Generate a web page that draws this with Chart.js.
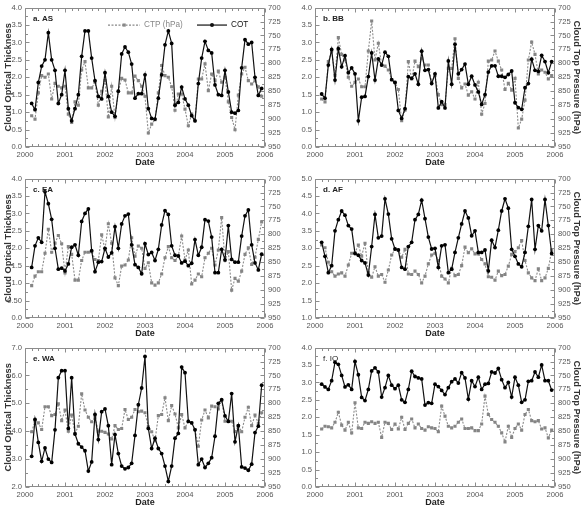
<!DOCTYPE html>
<html>
<head>
<meta charset="utf-8">
<script src="https://cdn.jsdelivr.net/npm/chart.js@4.4.1/dist/chart.umd.min.js"></script>
<style>
html,body{margin:0;padding:0;background:#fff;}
#wrap{position:relative;width:583px;height:512px;background:#fff;overflow:hidden;}
canvas{position:absolute;}
</style>
</head>
<body>
<div id="wrap"></div>
<script>
// ---- categories (monthly, Mar 2000 - Dec 2005) ----
const dates = Array.from({length: 70}, (_, i) => 2000 + (i + 2) / 12);
const xLabels   = ['2000','2001','2002','2003','2004','2005','2006'];
const xLabelsIO = ['2000','2001','2001','2003','2004','2005','2006'];

// ---- tick labels ----
const yLabels4  = ['0.0','0.5','1.0','1.5','2.0','2.5','3.0','3.5','4.0'];
const yLabelsEA = ['0.0','0.50','1.0','1.5','2.0','2.5','3.0','3.5','4.0'];
const yLabelsAF = ['1.0','1.5','2.0','2.5','3.0','3.5','4.0','4.5','5.0'];
const yLabelsWA = ['2.0','3.0','4.0','5.0','6.0','7.0'];
const ctpLabels = ['700','725','750','775','800','825','850','875','900','925','950'];

// ---- series: COT (cloud optical thickness) and CTP (cloud top pressure, hPa) ----
const cotAS = [1.25,1.07,1.85,2.32,2.5,3.28,2.5,2.2,1.25,1.5, 2.2,1.1,0.75,1.1,1.5,2.6,3.33,3.33,2.55,1.9, 1.45,1.38,2.13,1.45,1.0,0.88,1.6,2.67,2.87,2.72, 2.38,1.4,1.53,1.53,2.07,1.1,0.82,0.8,1.4,2.07, 2.93,3.33,2.97,1.2,1.28,1.72,1.38,1.2,0.9,0.75, 1.82,2.55,3.03,2.77,2.7,1.78,1.5,1.48,2.2,1.58, 1.0,0.97,1.05,2.27,3.08,2.95,3.0,2.0,1.48,1.68];
const ctpAS = [894,900,853,822,825,819,864,836,841,844, 841,891,906,869,875,812,797,844,844,834, 875,850,831,896,841,897,850,827,830,853, 853,823,831,841,859,925,909,901,853,804, 822,825,842,884,855,855,882,912,891,903, 828,828,801,849,819,831,814,834,825,869, 897,919,857,819,807,831,837,831,842,859];

const cotBB = [1.52,1.4,2.35,2.8,1.92,2.82,2.3,2.62,2.13,2.27, 2.1,0.75,1.43,1.45,2.02,2.7,1.92,2.53,2.35,2.72, 2.6,1.93,1.85,1.05,0.82,1.1,2.02,1.97,2.1,1.8, 2.75,2.2,2.22,1.82,2.1,1.12,1.3,1.12,2.47,1.8, 2.95,2.1,2.22,2.38,1.8,2.03,1.78,1.58,1.22,1.5, 2.15,2.33,2.33,2.03,2.03,2.0,2.08,2.18,1.27,1.13, 1.08,1.7,1.82,2.52,2.2,2.17,2.63,2.45,2.13,2.45];
const ctpBB = [864,869,797,778,822,754,784,794,825,841, 834,828,842,842,778,724,794,764,803,805, 812,829,834,847,903,884,797,828,796,806, 792,803,803,834,822,856,874,874,809,809, 756,827,844,837,857,851,864,834,891,872, 796,794,778,796,812,847,836,848,827,916, 900,866,794,762,784,819,812,816,828,822];

const cotEA = [1.45,2.07,2.3,2.17,3.62,3.28,2.83,2.0,1.4,1.43, 1.35,1.55,2.03,2.1,1.8,2.77,3.0,3.13,1.93,1.33, 1.6,1.62,2.0,1.75,1.87,2.62,2.0,2.7,2.93,2.98, 2.1,1.53,1.45,1.27,2.13,1.82,1.88,1.65,1.97,2.67, 3.08,2.97,2.07,1.8,1.78,1.58,1.63,1.5,1.57,2.25, 1.8,2.03,2.82,2.78,2.32,1.3,1.3,1.97,1.67,2.65, 1.68,1.6,1.6,2.35,2.93,3.1,2.1,1.58,1.38,1.83];
const ctpEA = [892,875,867,867,834,791,832,816,802,817, 869,822,836,882,882,847,832,832,831,845, 847,801,827,781,816,878,892,857,855,846, 806,839,821,825,861,851,887,891,887,871, 842,822,842,847,839,803,846,828,889,882, 871,876,842,834,825,855,828,770,847,831, 900,879,884,866,836,824,854,841,809,778];

const cotAF = [3.17,2.77,2.3,2.5,3.5,3.82,4.07,3.95,3.65,3.55, 2.85,2.8,2.65,2.58,2.23,3.05,3.97,3.3,3.35,4.42, 3.98,3.27,2.98,2.95,2.45,2.4,3.05,3.17,3.82,3.97, 4.38,3.85,3.32,2.98,3.0,2.45,3.07,3.1,2.3,2.4, 2.88,3.3,3.7,4.07,3.87,3.36,3.5,2.88,2.88,2.95, 2.35,3.23,3.02,3.52,4.07,4.42,4.15,2.97,2.77,2.55, 2.47,2.88,3.63,4.4,2.97,3.65,3.5,4.4,3.65,2.85];
const ctpAF = [819,824,850,867,875,871,869,875,855,834, 833,819,839,816,869,877,858,875,872,886, 864,837,827,828,841,827,871,872,866,872, 887,875,853,837,834,847,875,880,887,861, 874,872,856,823,833,826,835,835,845,853, 876,877,882,866,874,872,857,836,831,824, 811,847,869,878,883,862,883,878,861,829];

const cotWA = [3.1,4.42,3.6,2.92,3.4,3.0,2.88,4.05,5.92,6.17, 6.17,4.1,5.92,3.9,3.55,3.43,3.3,2.57,2.9,4.6, 3.7,4.7,4.8,4.2,2.8,3.88,3.2,2.75,2.65,2.7, 2.85,3.85,4.95,5.55,6.68,4.1,3.38,3.75,3.38,3.2, 2.75,2.2,2.75,3.75,3.92,6.3,6.1,4.35,4.3,4.05, 2.8,3.0,2.7,2.85,3.05,3.82,5.0,5.13,4.55,4.35, 5.35,3.62,4.2,2.72,2.68,2.6,2.82,3.95,4.18,5.65];
const ctpWA = [851,832,835,847,806,806,822,820,801,831, 812,850,821,854,841,783,812,825,833,825, 850,850,852,855,864,840,847,845,811,829, 825,811,815,814,817,842,851,867,822,820, 790,831,804,819,844,820,844,832,835,847, 877,830,812,826,805,806,810,795,832,832, 832,851,840,851,825,807,840,821,836,817];

const cotIO = [2.95,2.87,2.8,3.05,3.58,3.52,3.2,2.87,2.93,2.8, 3.6,3.22,2.57,2.48,2.8,3.33,3.42,3.3,2.58,2.85, 3.2,2.92,2.82,2.92,2.5,2.43,2.8,3.32,3.17,3.13, 3.1,2.35,2.42,2.4,2.95,2.88,2.77,2.65,2.85,3.02, 3.1,2.98,3.28,3.13,2.52,3.05,2.88,3.15,2.8,2.95, 2.97,3.3,3.27,3.4,3.08,2.85,3.0,2.58,3.15,2.92, 2.43,2.5,3.03,3.05,3.3,3.15,3.5,3.05,3.05,2.78];
const ctpIO = [846,841,842,844,834,816,839,848,834,853, 799,844,845,834,836,833,836,834,861,834, 836,847,837,846,825,847,836,828,844,837, 845,848,842,844,845,851,805,823,841,844, 841,834,828,845,845,844,849,849,837,787, 820,829,834,841,853,869,841,861,845,837, 848,820,811,831,833,831,846,844,862,848];

// ---- panels ----
const panels = [
  {label:'a. AS', cot:cotAS, ctp:ctpAS, yMin:0, yMax:4, yStep:0.5, yLabels:yLabels4,  xl:xLabels,   col:0, row:0, legend:true},
  {label:'b. BB', cot:cotBB, ctp:ctpBB, yMin:0, yMax:4, yStep:0.5, yLabels:yLabels4,  xl:xLabels,   col:1, row:0},
  {label:'c. EA', cot:cotEA, ctp:ctpEA, yMin:0, yMax:4, yStep:0.5, yLabels:yLabelsEA, xl:xLabels,   col:0, row:1},
  {label:'d. AF', cot:cotAF, ctp:ctpAF, yMin:1, yMax:5, yStep:0.5, yLabels:yLabelsAF, xl:xLabels,   col:1, row:1},
  {label:'e. WA', cot:cotWA, ctp:ctpWA, yMin:2, yMax:7, yStep:1.0, yLabels:yLabelsWA, xl:xLabels,   col:0, row:2},
  {label:'f. IO', cot:cotIO, ctp:ctpIO, yMin:0, yMax:4, yStep:0.5, yLabels:yLabels4,  xl:xLabelsIO, col:1, row:2, thin:true}
];

const FONT = "'Liberation Sans', Arial, Helvetica, sans-serif";
const rowTop = [0, 171, 340];
const rowH   = [171, 169, 172];
const colLeft = [0, 291];
const colW    = [291, 292];
const leftW   = [25, 24];
const rightW  = [26, 28];
const PLOT_TOP = 5, PLOT_H = 142;

function makeFrame(p) {
  return {
    id: 'frame',
    beforeDatasetsDraw(chart) {
      const {ctx, chartArea: a, scales} = chart;
      const L = Math.round(a.left) + 0.5, R = Math.round(a.right) - 0.5;
      const T = Math.round(a.top) + 0.5, B = Math.round(a.bottom) - 0.5;
      ctx.save();
      ctx.strokeStyle = '#8c8c8c';
      ctx.lineWidth = 1;
      ctx.beginPath();
      ctx.rect(L, T, R - L, B - T);
      for (let yr = 2000; yr <= 2006; yr++) {
        for (let m = 0; m < 12; m += 2) {
          const v = yr + m / 12;
          if (v > 2006) break;
          const px = Math.round(scales.x.getPixelForValue(v)) + 0.5;
          const len = m === 0 ? 4 : 2.5;
          ctx.moveTo(px, B); ctx.lineTo(px, B - len);
          ctx.moveTo(px, T); ctx.lineTo(px, T + len);
        }
      }
      const y = scales.y;
      const st = p.yStep;
      for (let k = 0; k <= Math.round((p.yMax - p.yMin) / st * 2); k++) {
        const v = p.yMin + k * st / 2;
        const py = Math.round(y.getPixelForValue(v)) + 0.5;
        const len = (k % 2 === 0) ? 4 : 2.5;
        ctx.moveTo(L, py); ctx.lineTo(L + len, py);
      }
      const y2 = scales.y2;
      for (let k = 0; k <= 20; k++) {
        const v = 700 + k * 12.5;
        const py = Math.round(y2.getPixelForValue(v)) + 0.5;
        const len = (k % 2 === 0) ? 4 : 2.5;
        ctx.moveTo(R, py); ctx.lineTo(R - len, py);
      }
      ctx.stroke();
      ctx.restore();
    },
    afterDraw(chart) {
      const {ctx, chartArea: a} = chart;
      ctx.save();
      ctx.fillStyle = '#222';
      ctx.font = (p.thin ? '' : 'bold ') + '8px ' + FONT;
      ctx.textBaseline = 'middle';
      ctx.textAlign = 'left';
      ctx.fillText(p.label, a.left + 8, a.top + 11);
      if (p.legend) {
        const ly = a.top + 17.5;
        ctx.strokeStyle = '#888'; ctx.lineWidth = 1.2;
        ctx.setLineDash([2, 1.5]);
        ctx.beginPath(); ctx.moveTo(108, ly); ctx.lineTo(140, ly); ctx.stroke();
        ctx.setLineDash([]);
        ctx.fillStyle = '#888';
        ctx.fillRect(122.5, ly - 1.6, 3.2, 3.2);
        ctx.font = '8.2px ' + FONT;
        ctx.fillText('CTP (hPa)', 144, ly);
        ctx.strokeStyle = '#111'; ctx.lineWidth = 1.2;
        ctx.beginPath(); ctx.moveTo(197, ly); ctx.lineTo(227, ly); ctx.stroke();
        ctx.fillStyle = '#111';
        ctx.beginPath(); ctx.arc(212, ly, 2, 0, Math.PI * 2); ctx.fill();
        ctx.fillText('COT', 231, ly);
      }
      ctx.restore();
    }
  };
}

const wrap = document.getElementById('wrap');
panels.forEach(p => {
  const cv = document.createElement('canvas');
  const W = colW[p.col], H = rowH[p.row];
  cv.width = W; cv.height = H;
  cv.style.left = colLeft[p.col] + 'px';
  cv.style.top = rowTop[p.row] + 'px';
  cv.style.width = W + 'px'; cv.style.height = H + 'px';
  wrap.appendChild(cv);
  const isLeft = p.col === 0;
  const xH = H - PLOT_TOP - PLOT_H;
  const datePad = Math.max(0, H - (PLOT_TOP + PLOT_H + 16) - 5.4);
  new Chart(cv.getContext('2d'), {
    type: 'line',
    data: {
      datasets: [
        {
          label: 'COT', yAxisID: 'y',
          data: p.cot.map((v, i) => ({x: dates[i], y: v})),
          borderColor: '#111', backgroundColor: '#111', borderWidth: 1.2,
          pointStyle: 'circle', pointRadius: 1.9, pointBorderWidth: 0,
          pointBackgroundColor: '#000', tension: 0, fill: false
        },
        {
          label: 'CTP (hPa)', yAxisID: 'y2',
          data: p.ctp.map((v, i) => ({x: dates[i], y: v})),
          borderColor: '#8a8a8a', backgroundColor: '#8a8a8a', borderWidth: 1.1,
          borderDash: [2, 1.5],
          pointStyle: 'rect', pointRadius: 2.2, pointBorderWidth: 0,
          pointBackgroundColor: '#858585', tension: 0, fill: false
        }
      ]
    },
    options: {
      responsive: false, animation: false, devicePixelRatio: 1,
      layout: {padding: {top: PLOT_TOP, left: 0, right: 0, bottom: 0}},
      plugins: {legend: {display: false}, tooltip: {enabled: false}},
      scales: {
        x: {
          type: 'linear', min: 2000, max: 2006,
          grid: {display: false, drawTicks: false}, border: {display: false},
          ticks: {stepSize: 1, autoSkip: false, maxRotation: 0, padding: 3,
                  color: '#555', font: {family: FONT, size: 7.6},
                  callback: (v) => p.xl[Math.round(v - 2000)]},
          title: {display: true, text: 'Date', color: '#222',
                  font: {family: FONT, size: 9, weight: 'bold'},
                  padding: {top: 0, bottom: datePad}},
          afterFit: s => { s.height = xH; }
        },
        y: {
          position: 'left', min: p.yMin, max: p.yMax,
          grid: {display: false, drawTicks: false}, border: {display: false},
          ticks: {stepSize: p.yStep, padding: 3, color: '#555',
                  font: {family: FONT, size: 7.6},
                  callback: (v) => p.yLabels[Math.round((v - p.yMin) / p.yStep)]},
          title: {display: isLeft, text: 'Cloud Optical Thickness', color: '#333',
                  font: {family: FONT, size: 9.3, weight: 'bold'},
                  padding: {top: 3, bottom: 0}},
          afterFit: s => { s.width = leftW[p.col]; }
        },
        y2: {
          position: 'right', reverse: true, min: 700, max: 950,
          grid: {display: false, drawTicks: false}, border: {display: false},
          ticks: {stepSize: 25, padding: 3, color: '#555',
                  font: {family: FONT, size: 7.6},
                  callback: (v) => ctpLabels[Math.round((v - 700) / 25)]},
          title: {display: !isLeft, text: 'Cloud Top Pressure (hPa)', color: '#333',
                  font: {family: FONT, size: 9.3, weight: 'bold'},
                  padding: {top: 1, bottom: 0}},
          afterFit: s => { s.width = rightW[p.col]; }
        }
      }
    },
    plugins: [makeFrame(p)]
  });
});
</script>
</body>
</html>
